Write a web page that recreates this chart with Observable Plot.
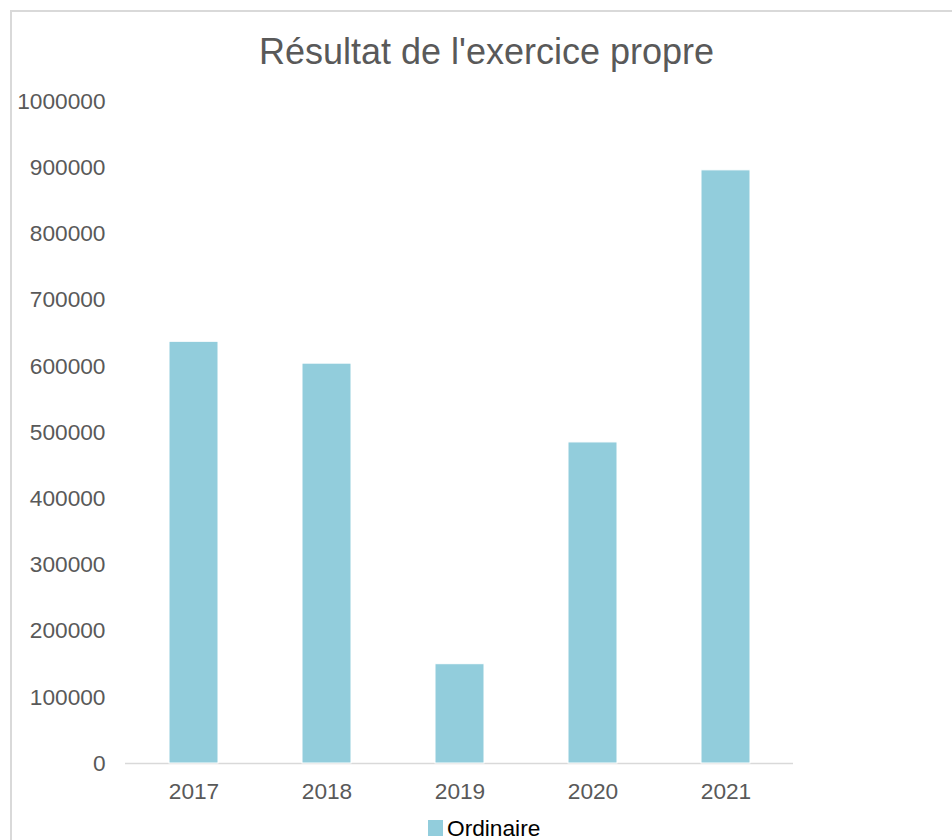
<!DOCTYPE html>
<html>
<head>
<meta charset="utf-8">
<script src="https://cdn.jsdelivr.net/npm/d3@7"></script>
<script src="https://cdn.jsdelivr.net/npm/@observablehq/plot@0.6"></script>
<style>
  html, body { margin: 0; padding: 0; background: #fff; width: 952px; height: 840px; overflow: hidden; }
  body { position: relative; font-family: "Liberation Sans", Arial, sans-serif; }
  #frame { position: absolute; left: 10px; top: 10px; width: 1000px; height: 900px; border: 2px solid #d9d9d9; box-sizing: border-box; }
  #title { position: absolute; left: 0; width: 973px; top: 34px; text-align: center; font-size: 36px; line-height: 36px; color: #595959; white-space: nowrap; }
  #chart { position: absolute; left: 0; top: 0; }
  #legend { position: absolute; left: 428px; top: 815px; height: 26px; display: flex; align-items: center; font-size: 22.7px; color: #000; white-space: nowrap; }
  #legend .sw { width: 15px; height: 16px; background: #92CDDC; margin-right: 4px; }
</style>
</head>
<body>
<div id="frame"></div>
<div id="title">Résultat de l'exercice propre</div>
<div id="chart"></div>
<div id="legend"></div>
<script>
const years = ["2017", "2018", "2019", "2020", "2021"];
const ordinaire = [637000, 604000, 150000, 485000, 896000];
const yTicks = [0, 100000, 200000, 300000, 400000, 500000, 600000, 700000, 800000, 900000, 1000000];
const seriesName = "Ordinaire";
const barColor = "#92CDDC";

const data = years.map((y, i) => ({year: y, value: ordinaire[i]}));

const plot = Plot.plot({
  width: 952,
  height: 810,
  marginLeft: 125,
  marginRight: 159,
  marginTop: 101,
  marginBottom: 47,
  style: {fontFamily: "Liberation Sans, Arial, sans-serif", fontSize: "22.7px", color: "#595959", background: "transparent"},
  x: {type: "band", domain: years, paddingInner: 0.633, paddingOuter: 0.3165},
  y: {domain: [0, 1000000]},
  marks: [
    Plot.axisY({ticks: yTicks, tickSize: 0, tickPadding: 20, tickFormat: d => String(d), label: null, fill: "#595959"}),
    Plot.axisX({tickSize: 0, tickPadding: 19, label: null, fill: "#595959"}),
    Plot.ruleY([0], {stroke: "#d9d9d9", strokeWidth: 1.5}),
    Plot.barY(data, {x: "year", y: "value", fill: barColor, stroke: "#ffffff", strokeWidth: 1})
  ]
});
document.getElementById("chart").appendChild(plot);

const lg = document.getElementById("legend");
const sw = document.createElement("div");
sw.className = "sw";
sw.style.background = barColor;
lg.appendChild(sw);
const lt = document.createElement("span");
lt.textContent = seriesName;
lg.appendChild(lt);
</script>
</body>
</html>
